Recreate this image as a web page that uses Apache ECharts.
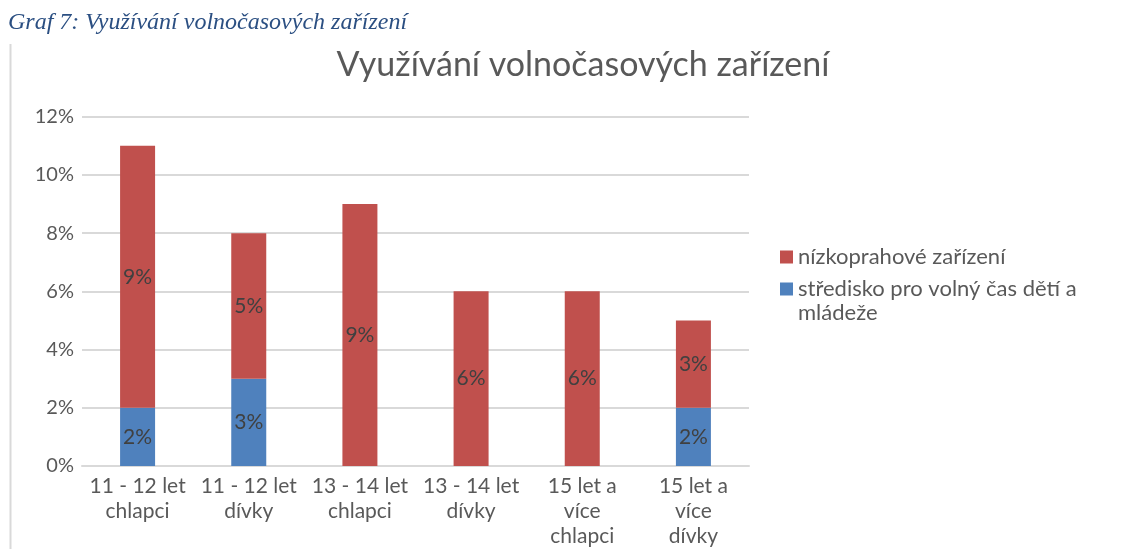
<!DOCTYPE html>
<html>
<head>
<meta charset="utf-8">
<script src="https://cdn.jsdelivr.net/npm/echarts@6/dist/echarts.min.js"></script>
<style>
  html, body { margin: 0; padding: 0; background: #fff; }
  #main { width: 1147px; height: 549px; }
</style>
</head>
<body>
<div id="main"></div>
<script>
// kategorie (zalomené jako v Excelu)
const categories = [
  "11 - 12 let\nchlapci",
  "11 - 12 let\ndívky",
  "13 - 14 let\nchlapci",
  "13 - 14 let\ndívky",
  "15 let a\nvíce\nchlapci",
  "15 let a\nvíce\ndívky"
];
const seriesNames = ["středisko pro volný čas dětí a mládeže", "nízkoprahové zařízení"];
const strediskoValues = [2, 3, 0, 0, 0, 2];
const nizkoprahoveValues = [9, 5, 9, 6, 6, 3];
const yTicks = [0, 2, 4, 6, 8, 10, 12];

const font = "Lato, 'Noto Sans', sans-serif";

let myChart = echarts.init(document.getElementById("main"));

const labelOpt = {
  show: true,
  position: "inside",
  fontFamily: font,
  fontSize: 21,
  color: "#404040",
  formatter: (p) => (p.value > 0 ? p.value + "%" : "")
};

const legendText = { fontFamily: font, fontSize: 22, color: "#595959", lineHeight: 24 };

myChart.setOption({
  animation: false,
  color: ["#4F81BD", "#C0504D"],
  title: {
    text: "Využívání volnočasových zařízení",
    left: 578,
    textAlign: "center",
    top: 43,
    textStyle: { fontFamily: font, fontSize: 34, fontWeight: "normal", color: "#595959" }
  },
  graphic: [
    {
      type: "text",
      left: 8,
      top: 11,
      style: {
        text: "Graf 7: Využívání volnočasových zařízení",
        font: "italic 24px 'Liberation Serif', 'DejaVu Serif', serif",
        fill: "#2B4F82"
      }
    },
    {
      type: "line",
      shape: { x1: 10.5, y1: 44, x2: 10.5, y2: 549 },
      style: { stroke: "#d9d9d9", lineWidth: 2 }
    }
  ],
  legend: [
    {
      left: 780,
      top: 245,
      padding: 0,
      itemWidth: 13,
      itemHeight: 13,
      icon: "rect",
      textStyle: legendText,
      data: [seriesNames[1]]
    },
    {
      // prázdný první řádek -> ikona zarovnaná s prvním řádkem textu
      left: 780,
      top: 253,
      padding: 0,
      itemWidth: 13,
      itemHeight: 13,
      icon: "rect",
      textStyle: legendText,
      data: [seriesNames[0]],
      formatter: () => "\nstředisko pro volný čas dětí a\nmládeže"
    }
  ],
  grid: { left: 82, right: 398, top: 116.7, bottom: 81.3, containLabel: false },
  xAxis: {
    type: "category",
    data: categories,
    axisTick: { show: false },
    axisLine: { lineStyle: { color: "#d9d9d9", width: 2 } },
    axisLabel: {
      fontFamily: font,
      fontSize: 21,
      color: "#595959",
      lineHeight: 25,
      margin: 8,
      interval: 0
    }
  },
  yAxis: {
    type: "value",
    min: yTicks[0],
    max: yTicks[yTicks.length - 1],
    interval: 2,
    axisLine: { show: false },
    axisTick: { show: false },
    splitLine: { lineStyle: { color: "#d9d9d9", width: 2 } },
    axisLabel: {
      fontFamily: font,
      fontSize: 20,
      color: "#595959",
      margin: 8,
      formatter: "{value}%"
    }
  },
  series: [
    {
      name: seriesNames[0],
      type: "bar",
      stack: "total",
      barWidth: 35,
      label: labelOpt,
      data: strediskoValues
    },
    {
      name: seriesNames[1],
      type: "bar",
      stack: "total",
      barWidth: 35,
      label: labelOpt,
      data: nizkoprahoveValues
    }
  ]
});
</script>
</body>
</html>
